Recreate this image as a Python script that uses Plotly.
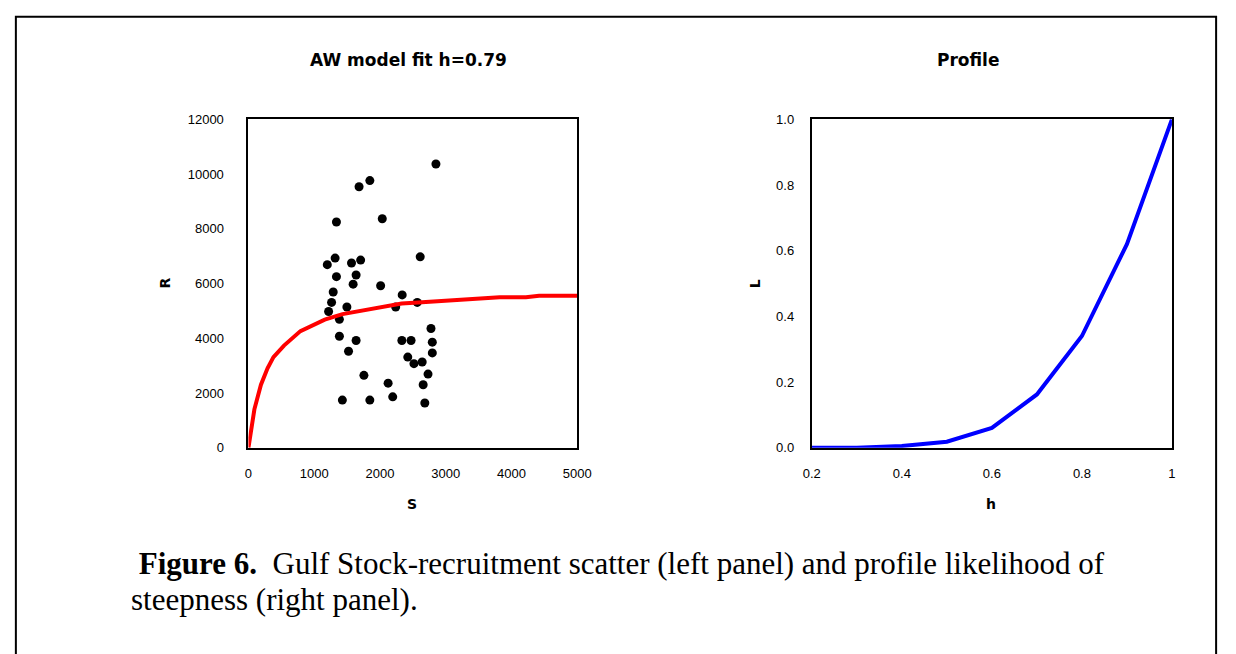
import plotly.graph_objects as go

W, H = 1236, 654

S_obs = [2851, 1846, 1682, 1338, 2035, 2612, 1318, 1199, 1567, 1706, 1338, 1637, 1592, 2010,
         1289, 2338, 1264, 2567, 1497, 2239, 1219, 1383, 2776, 1383, 1637, 2333, 2473, 2796,
         2796, 1522, 2423, 2517, 2642, 1756, 2731, 2124, 2657, 2194, 1428, 1846, 2682]
R_obs = [10369, 9762, 9536, 8250, 8369, 6976, 6929, 6690, 6750, 6857, 6250, 6310, 5976, 5917,
         5690, 5583, 5310, 5310, 5143, 5143, 4976, 4690, 4357, 4071, 3917, 3917, 3917, 3857,
         3464, 3524, 3310, 3071, 3131, 2643, 2690, 2357, 2298, 1857, 1738, 1738, 1631]

# Fitted AW model curve
S_fit = [0, 90, 190, 290, 380, 540, 790, 1160, 1430, 1810, 2130, 2330, 2580, 3030, 3420, 3820, 4220, 4420, 5000]
R_fit = [0, 1400, 2300, 2900, 3310, 3730, 4260, 4680, 4880, 5060, 5180, 5270, 5310, 5370, 5440, 5500, 5500, 5550, 5550]

# Profile likelihood of steepness
h_vals = [0.2, 0.3, 0.4, 0.5, 0.6, 0.7, 0.8, 0.9, 1.0]
L_vals = [0.0, 0.0, 0.005, 0.018, 0.06, 0.162, 0.34, 0.62, 1.0]

left_x_ticks = [0, 1000, 2000, 3000, 4000, 5000]
left_y_ticks = [0, 2000, 4000, 6000, 8000, 10000, 12000]
right_x_ticks = [0.2, 0.4, 0.6, 0.8, 1.0]
right_x_text = ["0.2", "0.4", "0.6", "0.8", "1"]
right_y_ticks = [0.0, 0.2, 0.4, 0.6, 0.8, 1.0]
right_y_text = ["0.0", "0.2", "0.4", "0.6", "0.8", "1.0"]


def px(x):
    return x / W


def py(y):
    return 1 - y / H


fig = go.Figure()
fig.add_trace(go.Scatter(x=S_obs, y=R_obs, mode="markers",
                         marker=dict(color="black", size=9, symbol="circle"),
                         xaxis="x", yaxis="y", showlegend=False))
fig.add_trace(go.Scatter(x=S_fit, y=R_fit, mode="lines",
                         line=dict(color="#ff0000", width=4),
                         xaxis="x", yaxis="y", showlegend=False))
fig.add_trace(go.Scatter(x=h_vals, y=L_vals, mode="lines",
                         line=dict(color="#0000ff", width=4),
                         xaxis="x2", yaxis="y2", showlegend=False))

tickfont = dict(family="Liberation Sans, Arial", size=13, color="black")
axcommon = dict(showgrid=False, zeroline=False, showline=True, mirror=True,
                linecolor="black", linewidth=2, ticks="", tickfont=tickfont)

ydom = [py(451), py(115)]

fig.update_layout(
    width=W, height=H,
    margin=dict(l=0, r=0, t=0, b=0),
    paper_bgcolor="white", plot_bgcolor="white",
    hovermode=False,
    xaxis=dict(domain=[px(244), px(579)], range=[0, 5000], tickvals=left_x_ticks,
               ticklabelstandoff=13, anchor="y", **axcommon),
    yaxis=dict(domain=ydom, range=[0, 12000], tickvals=left_y_ticks, tickformat="d",
               ticklabelstandoff=20, anchor="x", **axcommon),
    xaxis2=dict(domain=[px(818), px(1185)], range=[0.2, 1.0], tickvals=right_x_ticks,
                ticktext=right_x_text, ticklabelstandoff=13, anchor="y2", **axcommon),
    yaxis2=dict(domain=ydom, range=[0, 1.0], tickvals=right_y_ticks, ticktext=right_y_text,
                ticklabelstandoff=13, anchor="x2", **axcommon),
)

bold = dict(family="DejaVu Sans", size=17, color="black")
axt = dict(family="DejaVu Sans", size=14, color="black")
ann = [
    dict(text="<b>AW model fit h=0.79</b>", x=px(407), y=py(54), font=bold),
    dict(text="<b>Profile</b>", x=px(977), y=py(54), font=bold),
    dict(text="<b>S</b>", x=px(411), y=py(509), font=axt),
    dict(text="<b>h</b>", x=px(1001), y=py(509), font=axt),
    dict(text="<b>R</b>", x=px(158), y=py(283), font=axt, textangle=-90),
    dict(text="<b>L</b>", x=px(760), y=py(283), font=axt, textangle=-90),
]
for a in ann:
    fig.add_annotation(xref="paper", yref="paper", showarrow=False,
                       xanchor="center", yanchor="middle", **a)

serif = dict(family="Liberation Serif, Times New Roman", size=31, color="black")
fig.add_annotation(xref="paper", yref="paper", showarrow=False, xanchor="left", yanchor="middle",
                   x=px(122), y=py(570), font=serif,
                   text="\u00a0<b>Figure 6.</b>\u00a0 Gulf Stock-recruitment scatter (left panel) and profile likelihood of")
fig.add_annotation(xref="paper", yref="paper", showarrow=False, xanchor="left", yanchor="middle",
                   x=px(122), y=py(606), font=serif,
                   text="steepness (right panel).")

fig.add_shape(type="rect", xref="paper", yref="paper",
              x0=px(7), x1=px(1230), y0=-0.05, y1=py(10),
              line=dict(color="black", width=2), fillcolor="rgba(0,0,0,0)")

fig.write_html("out.html",
               config={"displayModeBar": False},
               post_script="document.body.style.margin='0';document.documentElement.style.overflow='hidden';")
